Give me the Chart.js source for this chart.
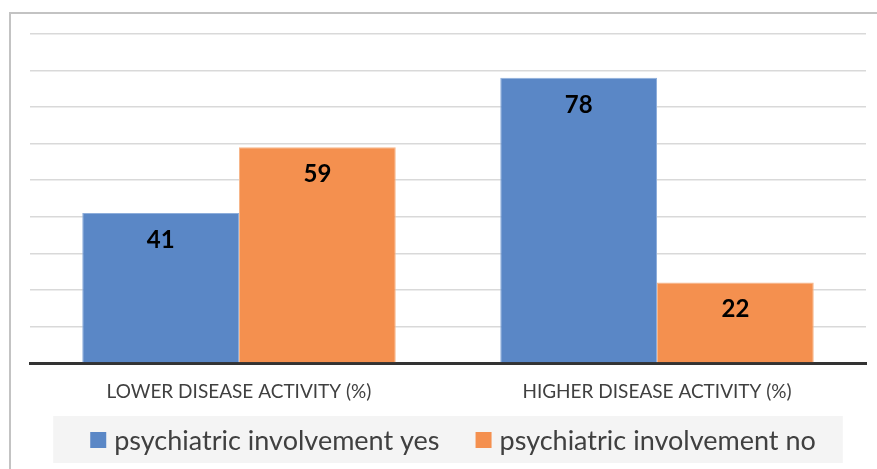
<!DOCTYPE html>
<html>
<head>
<meta charset="utf-8">
<script src="https://cdn.jsdelivr.net/npm/chart.js@4/dist/chart.umd.min.js"></script>
<style>
    html, body { margin: 0; padding: 0; background: #ffffff; }
    #wrap { position: relative; width: 877px; height: 469px; }
    #frame {
        position: absolute; left: 9px; top: 12px; right: -10px; bottom: -10px;
        border-left: 2px solid #c3c3c3; border-top: 2px solid #c3c3c3;
    }
    canvas { position: absolute; left: 0; top: 0; }
</style>
</head>
<body>
<div id="wrap">
    <div id="frame"></div>
    <canvas id="chart" width="877" height="469"></canvas>
</div>
<script>
// ======================
// DATA
// ======================
const categories = [
    "LOWER DISEASE ACTIVITY (%)",
    "HIGHER DISEASE ACTIVITY (%)"
];
const involvementYes = [41, 78];
const involvementNo = [59, 22];

const FONT = "Lato, 'Open Sans', sans-serif";

// value labels inside top of each bar
const barLabels = {
    id: "barLabels",
    afterDatasetsDraw(chart) {
        const ctx = chart.ctx;
        ctx.save();
        ctx.font = "bold 24px " + FONT;
        ctx.fillStyle = "#000000";
        ctx.textAlign = "center";
        ctx.textBaseline = "middle";
        chart.data.datasets.forEach((ds, i) => {
            chart.getDatasetMeta(i).data.forEach((bar, j) => {
                ctx.fillText(ds.data[j], bar.x, bar.y + 27);
            });
        });
        ctx.restore();
    }
};

// legend drawn under the axis, on a light grey box
const bottomLegend = {
    id: "bottomLegend",
    afterDraw(chart) {
        const ctx = chart.ctx;
        const area = chart.chartArea;
        const cy = chart.height - 29;
        const box = 16, gap = 8, itemGap = 36;

        ctx.save();
        ctx.font = "27px " + FONT;
        ctx.textBaseline = "middle";

        const items = chart.data.datasets.map(ds => ({
            text: ds.label,
            color: ds.backgroundColor,
            w: ctx.measureText(ds.label).width
        }));
        let total = 0;
        items.forEach((it, i) => {
            total += box + gap + it.w + (i ? itemGap : 0);
        });

        let x = (area.left + area.right) / 2 + 5 - total / 2;

        ctx.fillStyle = "#f4f4f4";
        ctx.fillRect(x - 37, cy - 24, total + 64, 47);

        items.forEach(it => {
            ctx.fillStyle = it.color;
            ctx.fillRect(x, cy - box / 2, box, box);
            x += box + gap;
            ctx.fillStyle = "#404040";
            ctx.fillText(it.text, x, cy + 1);
            x += it.w + itemGap;
        });
        ctx.restore();
    }
};

new Chart(
    document.getElementById("chart"),
    {
        type: "bar",

        data: {
            labels: categories,

            datasets: [{
                label: "psychiatric involvement yes",
                data: involvementYes,
                backgroundColor: "#5a87c6",
                borderColor: "#8eaedb",
                borderWidth: 1
            }, {
                label: "psychiatric involvement no",
                data: involvementNo,
                backgroundColor: "#f4904f",
                borderColor: "#f7b68a",
                borderWidth: 1
            }]
        },

        options: {
            responsive: false,
            animation: false,
            devicePixelRatio: 1,

            layout: {
                padding: { left: 30, right: 11, top: 34, bottom: 66 }
            },

            datasets: {
                bar: {
                    categoryPercentage: 0.75,
                    barPercentage: 1
                }
            },

            plugins: {
                tooltip: { enabled: false },
                legend: { display: false }
            },

            scales: {
                x: {
                    grid: { display: false },
                    border: { color: "#333333", width: 3 },
                    ticks: {
                        color: "#404040",
                        padding: 9,
                        font: { size: 19, family: FONT }
                    },
                    afterFit(scale) {
                        scale.height = 40;
                    }
                },
                y: {
                    min: 0,
                    max: 90,
                    ticks: { display: false, stepSize: 10 },
                    grid: {
                        color: "#d9d9d9",
                        lineWidth: 1.5,
                        drawTicks: false
                    },
                    border: { display: false }
                }
            }
        },

        plugins: [barLabels, bottomLegend]
    }
);
</script>
</body>
</html>
